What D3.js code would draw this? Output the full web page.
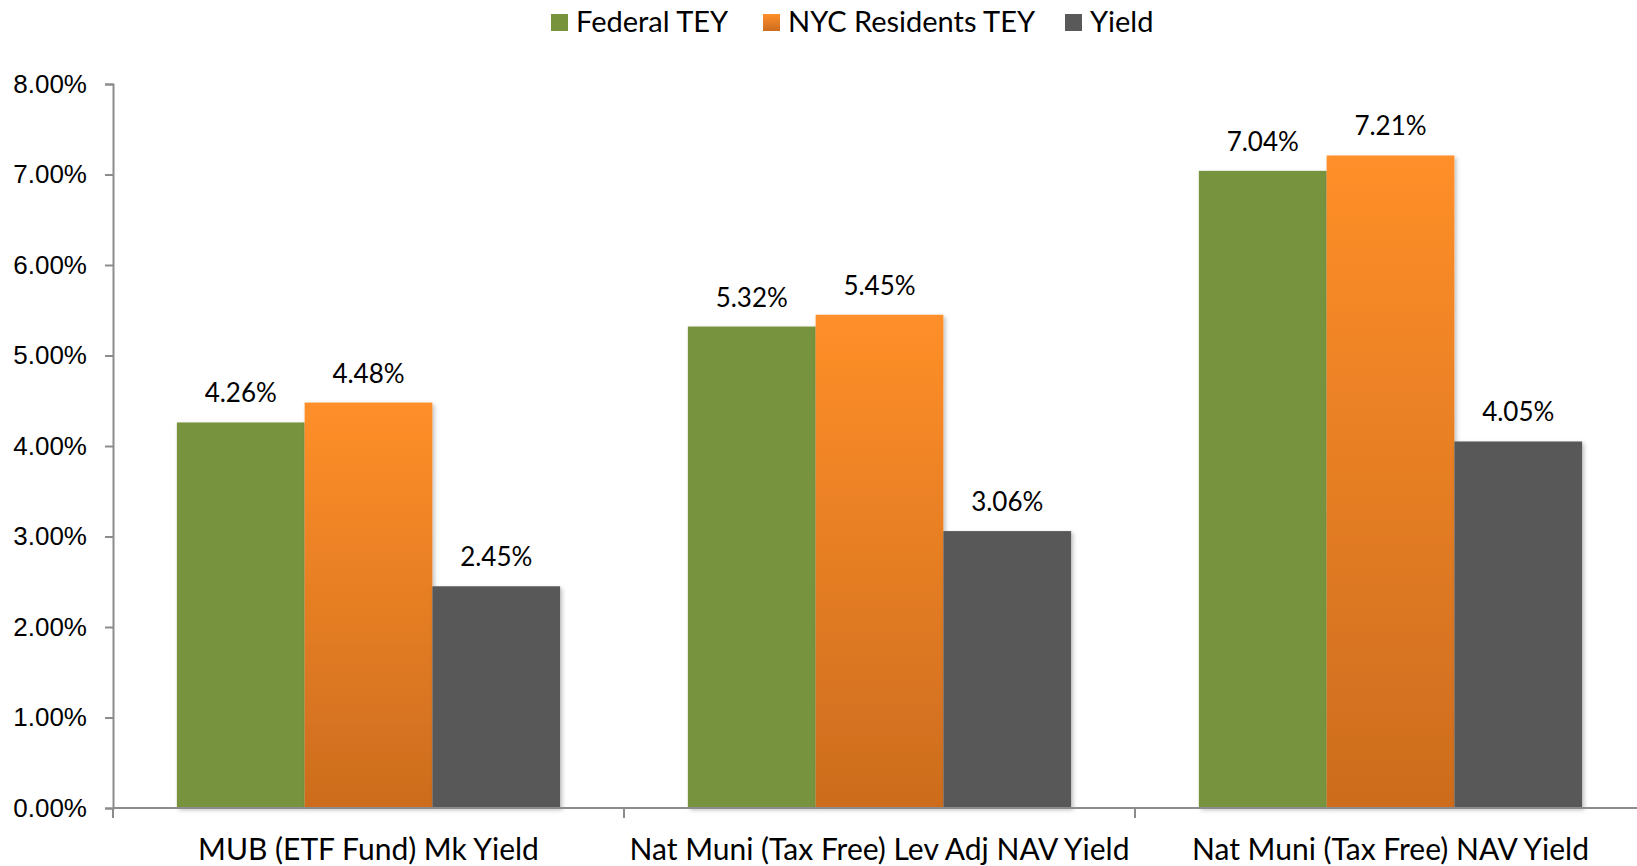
<!DOCTYPE html>
<html>
<head>
<meta charset="utf-8">
<script src="https://cdn.jsdelivr.net/npm/d3@7"></script>
<style>
  body { margin: 0; background: #fff; }
  svg { display: block; font-family: Lato, "Open Sans", sans-serif; }
  .axis path, .axis line { stroke: #8c8c8c; stroke-width: 2; }
  .axis text { fill: #000; }
</style>
</head>
<body>
<div id="chart"></div>
<script>
const categories = ['MUB (ETF Fund) Mk Yield', 'Nat Muni (Tax Free) Lev Adj NAV Yield', 'Nat Muni (Tax Free) NAV Yield']
const seriesNames = ['Federal TEY', 'NYC Residents TEY', 'Yield']
const federalTEY = [4.26, 5.32, 7.04]
const nycTEY = [4.48, 5.45, 7.21]
const yieldVals = [2.45, 3.06, 4.05]
const yTicks = [0, 1, 2, 3, 4, 5, 6, 7, 8]

const width = 1637
const height = 866
const margin = { top: 84, right: -9, bottom: 58, left: 113 }

const svg = d3.select('#chart')
  .append('svg')
  .attr('width', width)
  .attr('height', height)

const defs = svg.append('defs')
const grad = defs.append('linearGradient')
  .attr('id', 'orangeGrad')
  .attr('x1', 0).attr('y1', 0).attr('x2', 0).attr('y2', 1)
grad.append('stop').attr('offset', '0%').attr('stop-color', '#ff8f29')
grad.append('stop').attr('offset', '100%').attr('stop-color', '#cc6c1e')

const shadow = defs.append('filter').attr('id', 'shadow')
  .attr('x', '-5%').attr('y', '-5%').attr('width', '115%').attr('height', '115%')
shadow.append('feDropShadow')
  .attr('dx', 2).attr('dy', 2).attr('stdDeviation', 2)
  .attr('flood-color', '#000').attr('flood-opacity', 0.25)

const colors = ['#77933c', 'url(#orangeGrad)', '#595959']

const g = svg.append('g')
  .attr('transform', `translate(${margin.left},${margin.top})`)

const innerW = width - margin.left - margin.right
const innerH = height - margin.top - margin.bottom

const x0 = d3.scaleBand()
  .domain(categories)
  .range([0, innerW])
  .paddingInner(0.25)
  .paddingOuter(0.125)

const x1 = d3.scaleBand()
  .domain(seriesNames)
  .range([0, x0.bandwidth()])

const y = d3.scaleLinear()
  .domain([0, 8])
  .range([innerH, 0])

const data = categories.map((c, i) => ({
  cat: c,
  values: [federalTEY[i], nycTEY[i], yieldVals[i]]
}))

// y axis
const yAxis = d3.axisLeft(y)
  .tickValues(yTicks)
  .tickSize(8)
  .tickPadding(18)
  .tickFormat(d => d.toFixed(2) + '%')

g.append('g')
  .attr('class', 'axis y-axis')
  .call(yAxis)
  .call(s => s.selectAll('text').style('font-size', '26px'))

// bars
const groups = g.selectAll('.group')
  .data(data)
  .enter()
  .append('g')
  .attr('class', 'group')
  .attr('transform', d => `translate(${x0(d.cat)},0)`)

groups.selectAll('rect')
  .data(d => d.values.map((v, j) => ({ v, s: seriesNames[j], j })))
  .enter()
  .append('rect')
  .attr('x', d => x1(d.s))
  .attr('y', d => y(d.v))
  .attr('width', x1.bandwidth())
  .attr('height', d => y(0) - y(d.v))
  .attr('fill', d => colors[d.j])
  .attr('filter', 'url(#shadow)')

groups.selectAll('.label')
  .data(d => d.values.map((v, j) => ({ v, s: seriesNames[j] })))
  .enter()
  .append('text')
  .attr('class', 'label')
  .attr('x', d => x1(d.s) + x1.bandwidth() / 2)
  .attr('y', d => y(d.v) - 20)
  .attr('text-anchor', 'middle')
  .style('font-size', '26px')
  .text(d => d.v.toFixed(2) + '%')

// x axis - ticks at band boundaries
const xAxisG = g.append('g')
  .attr('class', 'axis x-axis')
  .attr('transform', `translate(0,${innerH})`)

xAxisG.append('line')
  .attr('x1', 0).attr('x2', innerW)
  .attr('y1', 0).attr('y2', 0)

const step = innerW / categories.length
d3.range(categories.length + 1).forEach(i => {
  xAxisG.append('line')
    .attr('x1', i * step).attr('x2', i * step)
    .attr('y1', 0).attr('y2', 10)
})

xAxisG.selectAll('.cat')
  .data(categories)
  .enter()
  .append('text')
  .attr('class', 'cat')
  .attr('x', d => x0(d) + x0.bandwidth() / 2)
  .attr('y', 52)
  .attr('text-anchor', 'middle')
  .style('font-size', '30px')
  .text(d => d)

// legend
const legend = svg.append('g').attr('class', 'legend')
const legendX = [551, 763, 1065]
seriesNames.forEach((name, i) => {
  const item = legend.append('g').attr('transform', `translate(${legendX[i]},14)`)
  item.append('rect')
    .attr('width', 17).attr('height', 17)
    .attr('fill', colors[i])
  item.append('text')
    .attr('x', 25).attr('y', 18)
    .style('font-size', '29px')
    .text(name)
})
</script>
</body>
</html>
